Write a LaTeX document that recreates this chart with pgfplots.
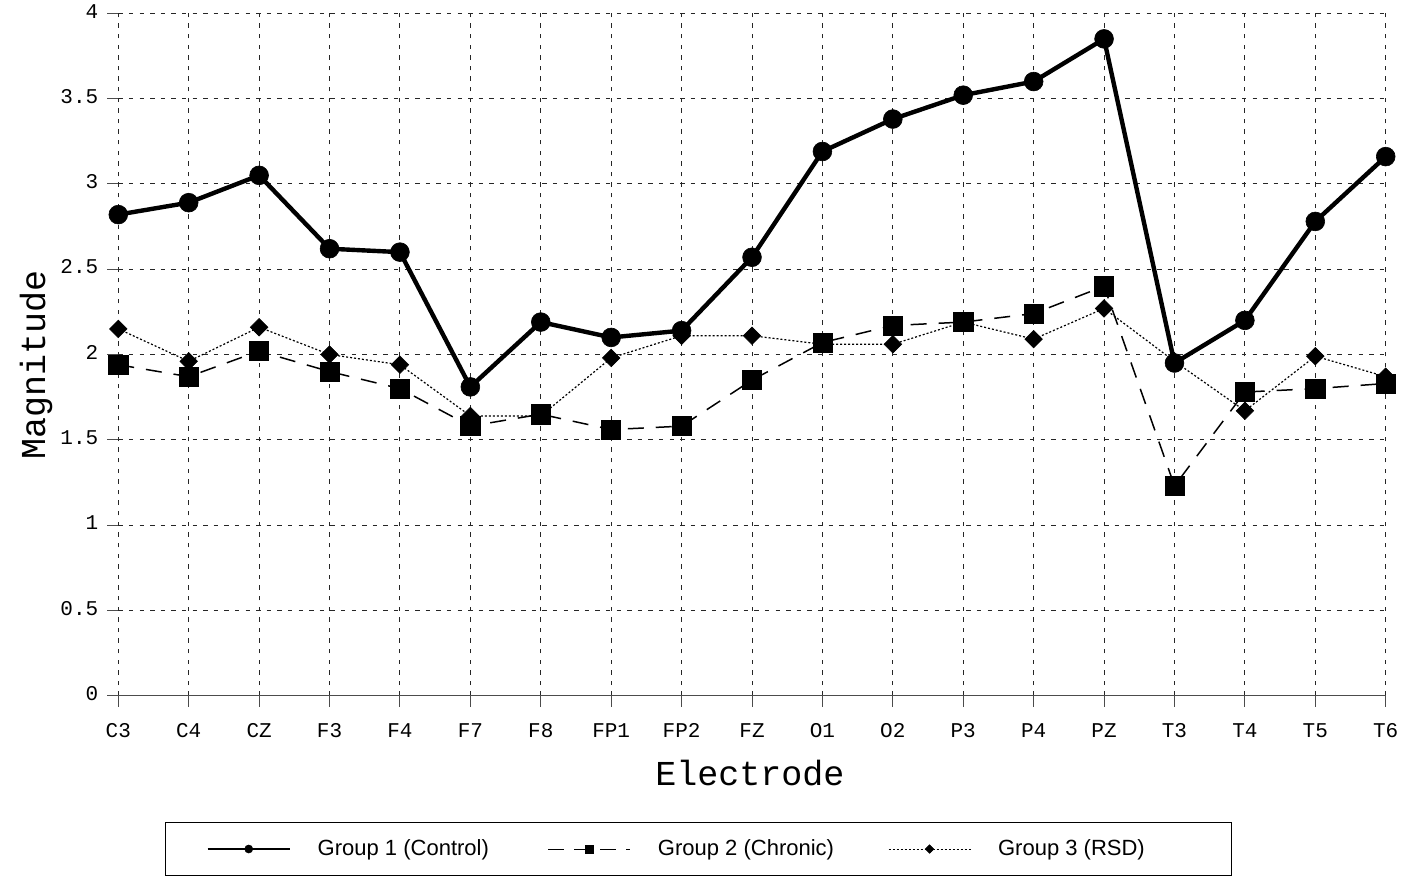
\documentclass[border=0pt]{standalone}
\usepackage{fontspec}
\setmonofont{Liberation Mono}
\newfontfamily\legfont{Liberation Sans}
\usepackage{pgfplots}
\pgfplotsset{compat=1.18}

% small legend samples, 41pt long, marker in the middle,
% with an invisible 10.5pt lead-in so the entries sit apart
\pgfplotsset{
  legctrl/.style={legend image code/.code={\path (-10.5pt,0pt);
        \draw[mark repeat=2,mark phase=2,##1,mark size=2pt,line width=1pt]
        plot coordinates {(0pt,0pt)(20.5pt,0pt)(41pt,0pt)};}},
  legchron/.style={legend image code/.code={\path (-10.5pt,0pt);
        \draw[mark repeat=2,mark phase=2,##1,mark size=2pt,line width=0.5pt,dash pattern=on 8pt off 5pt]
        plot coordinates {(0pt,0pt)(20.5pt,0pt)(41pt,0pt)};}},
  legrsd/.style={legend image code/.code={\path (-10.5pt,0pt);
        \draw[mark repeat=2,mark phase=2,##1,mark size=1.5pt,line width=0.5pt]
        plot coordinates {(0pt,0pt)(20.5pt,0pt)(41pt,0pt)};}},
}

% one table per group, x = electrode index
\pgfplotstableread{
x y
0 2.82
1 2.89
2 3.05
3 2.62
4 2.60
5 1.81
6 2.19
7 2.10
8 2.14
9 2.57
10 3.19
11 3.38
12 3.52
13 3.60
14 3.85
15 1.95
16 2.20
17 2.78
18 3.16
}\control
\pgfplotstableread{
x y
0 1.94
1 1.87
2 2.02
3 1.90
4 1.80
5 1.58
6 1.65
7 1.56
8 1.58
9 1.85
10 2.07
11 2.17
12 2.19
13 2.24
14 2.40
15 1.23
16 1.78
17 1.80
18 1.83
}\chronic
\pgfplotstableread{
x y
0 2.15
1 1.96
2 2.16
3 2.00
4 1.94
5 1.64
6 1.64
7 1.98
8 2.11
9 2.11
10 2.06
11 2.06
12 2.19
13 2.09
14 2.27
15 1.96
16 1.67
17 1.99
18 1.87
}\rsd

\begin{document}
\begin{tikzpicture}
\useasboundingbox (0,0) rectangle (703pt,439pt);
\begin{axis}[
    at={(59.15pt,91.15pt)}, anchor=south west,
    scale only axis,
    width=633.7pt, height=341.2pt,
    xmin=0, xmax=18, ymin=0, ymax=4,
    xtick={0,...,18},
    xticklabels={C3,C4,CZ,F3,F4,F7,F8,FP1,FP2,FZ,O1,O2,P3,P4,PZ,T3,T4,T5,T6},
    ytick={0,0.5,1,1.5,2,2.5,3,3.5,4},
    /pgf/number format/assume math mode=true,
    ticklabel style={font=\ttfamily\fontsize{10.5}{12}\selectfont},
    typeset ticklabels with strut,
    xticklabel style={yshift=-3.5pt},
    yticklabel style={xshift=-1pt},
    axis x line*=bottom, axis y line*=left,
    axis line style={-},
    x axis line style={black!70, line width=0.7pt},
    y axis line style={draw=none},
    tick align=outside,
    major tick length=5.5pt,
    tick style={black!70, line width=0.5pt},
    grid=major,
    grid style={black!85, line width=0.5pt, dash pattern=on 2.2pt off 3.1pt},
    xlabel={Electrode},
    ylabel={Magnitude},
    label style={font=\ttfamily\fontsize{17.5}{20}\selectfont},
    xlabel style={at={(axis description cs:0.4984,-0.114)}, anchor=center},
    ylabel style={at={(axis description cs:-0.0578,0.4846)}, anchor=base},
    clip=false,
    reverse legend,
    legend columns=3,
    legend style={at={(0.0368,-0.185)}, anchor=north west,
        draw=black, line width=0.6pt,
        font=\legfont\fontsize{11}{13}\selectfont,
        inner xsep=9.5pt, inner ysep=6.5pt,
        /tikz/every odd column/.append style={column sep=11.5pt}},
]
\addplot[black, line width=0.6pt, dash pattern=on 1pt off 1pt,
    mark=square*, mark size=3.1pt, mark options={solid, rotate=45, line width=0.3pt},
    legrsd]
    table[x=x,y=y] {\rsd};
\addlegendentry{\makebox[105pt][l]{Group 3 (RSD)}}
\addplot[black, line width=0.75pt, dash pattern=on 8pt off 6pt,
    mark=square*, mark size=4.8pt, mark options={solid, line width=0.3pt},
    legchron]
    table[x=x,y=y] {\chronic};
\addlegendentry{\makebox[102.5pt][l]{Group 2 (Chronic)}}
\addplot[black, line width=2.2pt,
    mark=*, mark size=4.7pt, mark options={solid, line width=0.3pt},
    legctrl]
    table[x=x,y=y] {\control};
\addlegendentry{\makebox[102.5pt][l]{Group 1 (Control)}}
\end{axis}
\end{tikzpicture}
\end{document}
